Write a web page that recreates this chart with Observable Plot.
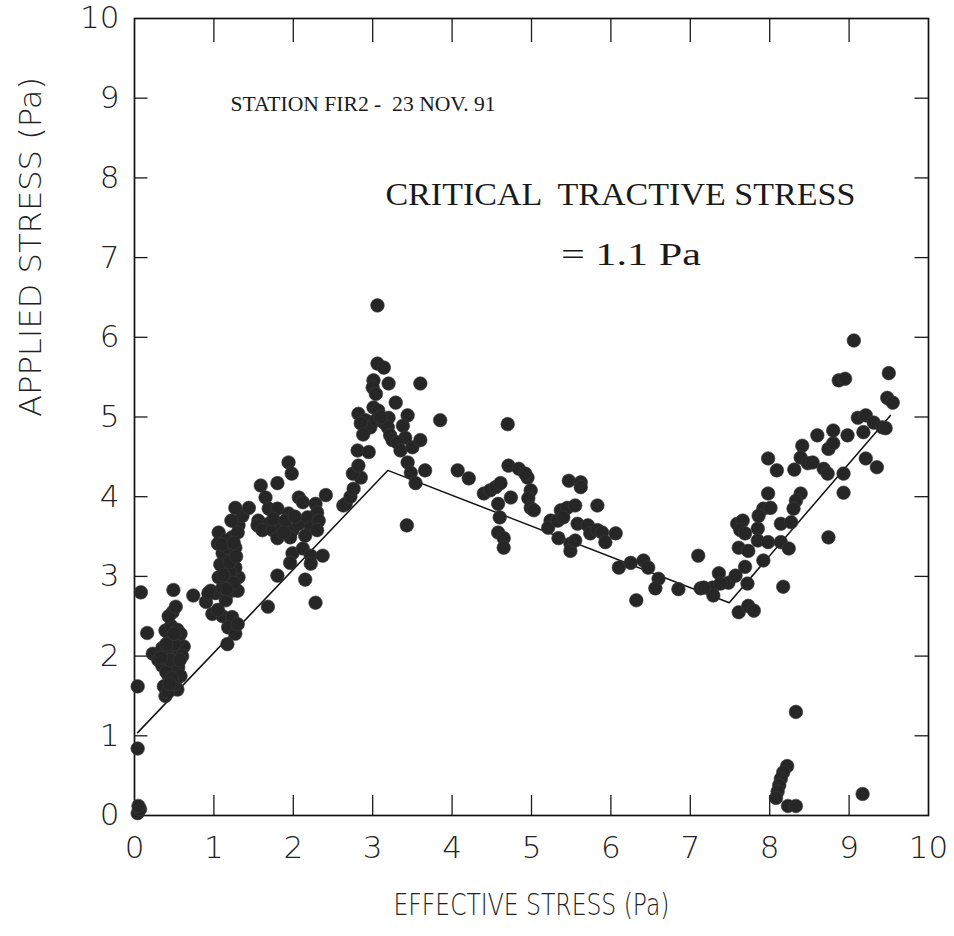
<!DOCTYPE html>
<html>
<head>
<meta charset="utf-8">
<script src="https://cdn.jsdelivr.net/npm/d3@7"></script>
<script src="https://cdn.jsdelivr.net/npm/@observablehq/plot@0.6"></script>
<style>
  html, body { margin: 0; padding: 0; background: #fff; }
</style>
</head>
<body>
<div id="chart"></div>
<script>
// Axis ticks (Pa)
const xTicks = [0, 1, 2, 3, 4, 5, 6, 7, 8, 9, 10];
const yTicks = [0, 1, 2, 3, 4, 5, 6, 7, 8, 9, 10];

// Observations: [effective stress, applied stress] in Pa
const nearOrigin = [
  [0.04, 0.03], [0.07, 0.08], [0.05, 0.12], [0.04, 0.84], [0.04, 1.62], [0.08, 2.80], [0.16, 2.29]
];
const lowCluster = [
  [0.23, 2.03], [0.30, 1.95], [0.35, 1.88], [0.39, 1.99], [0.43, 2.05], [0.52, 1.98], [0.55, 2.10], [0.62, 2.12],
  [0.39, 2.32], [0.46, 2.38], [0.54, 2.33], [0.45, 2.23], [0.55, 2.20], [0.48, 1.86], [0.55, 1.86], [0.43, 1.75],
  [0.52, 1.70], [0.37, 1.62], [0.49, 1.60], [0.39, 1.50], [0.54, 1.58], [0.42, 1.55], [0.50, 1.65], [0.58, 1.75],
  [0.35, 2.10], [0.60, 2.00], [0.48, 2.55], [0.43, 2.50], [0.52, 2.62], [0.49, 2.83], [0.40, 1.80], [0.58, 2.28],
  [0.45, 1.95], [0.50, 2.15], [0.40, 2.15], [0.47, 1.72], [0.33, 1.98], [0.57, 1.95], [0.44, 1.65], [0.50, 2.28]
];
const columnCluster = [
  [0.74, 2.76], [0.90, 2.68], [0.96, 2.82], [0.98, 2.53], [1.11, 2.50], [1.23, 2.49], [1.18, 2.36], [1.27, 2.28],
  [1.17, 2.15], [1.05, 2.58], [1.30, 2.40], [1.02, 2.79], [1.11, 2.86], [1.15, 2.70], [0.93, 2.79], [1.23, 2.82],
  [1.30, 2.82], [1.06, 2.99], [1.18, 2.95], [1.31, 2.99], [1.27, 3.11], [1.15, 3.16], [1.23, 3.24], [1.11, 3.29],
  [1.18, 3.36], [1.27, 3.36], [1.23, 3.49], [1.06, 3.55], [1.05, 3.41], [1.31, 3.64], [1.36, 3.76], [1.27, 3.86],
  [1.44, 3.86], [1.20, 3.05], [1.08, 3.15], [1.25, 2.92], [1.15, 3.45], [1.30, 3.55], [1.22, 3.70],
  [1.12, 3.02], [1.20, 3.18], [1.28, 3.25], [1.16, 2.84], [1.10, 3.40], [1.25, 3.42]
];
const upperCluster = [
  [1.68, 2.62], [1.80, 3.01], [2.15, 2.96], [2.28, 2.67], [1.94, 4.43], [1.98, 4.29], [1.80, 4.17], [1.59, 4.14],
  [2.41, 4.02], [2.07, 3.99], [2.12, 3.93], [2.63, 3.89], [2.28, 3.91], [2.30, 3.80], [1.65, 3.99], [1.69, 3.85],
  [1.80, 3.85], [1.94, 3.79], [1.56, 3.70], [1.69, 3.66], [1.81, 3.61], [1.55, 3.64], [1.61, 3.58], [1.74, 3.58],
  [1.86, 3.64], [1.99, 3.58], [2.07, 3.66], [2.18, 3.74], [2.22, 3.61], [2.32, 3.70], [2.30, 3.58], [2.15, 3.51],
  [1.96, 3.49], [1.80, 3.48], [1.99, 3.29], [2.12, 3.35], [2.22, 3.26], [2.37, 3.26], [2.22, 3.16], [1.96, 3.17],
  [1.75, 3.72], [1.90, 3.70], [2.02, 3.75], [1.88, 3.55]
];
const peakCluster = [
  [2.66, 3.91], [2.72, 4.00], [2.76, 4.10], [2.85, 4.24], [2.75, 4.29], [2.82, 4.39], [2.81, 4.58], [2.95, 4.56],
  [3.06, 6.40], [3.06, 5.67], [3.14, 5.62], [3.01, 5.46], [3.00, 5.37], [3.04, 5.29], [3.20, 5.42], [3.60, 5.42],
  [3.29, 5.18], [3.01, 5.12], [3.07, 5.08], [2.82, 5.04], [2.91, 4.96], [2.97, 4.87], [2.85, 4.92], [3.04, 4.96],
  [3.14, 4.93], [3.20, 4.99], [3.19, 4.87], [3.22, 4.77], [3.25, 4.71], [3.44, 5.02], [3.38, 4.89], [3.41, 4.74],
  [3.31, 4.68], [3.35, 4.58], [3.50, 4.62], [3.60, 4.71], [3.85, 4.96], [3.44, 4.43], [3.48, 4.30], [3.66, 4.33],
  [3.54, 4.17], [3.43, 3.64], [2.88, 4.78], [3.10, 5.00]
];
const fallingLimb = [
  [4.07, 4.33], [4.21, 4.23], [4.70, 4.91], [4.71, 4.39], [4.84, 4.35], [4.95, 4.24], [4.40, 4.04], [4.48, 4.08],
  [4.55, 4.12], [4.61, 4.17], [4.58, 3.91], [4.74, 3.99], [4.60, 3.74], [4.58, 3.55], [4.65, 3.48], [4.65, 3.36],
  [4.99, 4.08], [4.96, 3.98], [4.99, 3.86], [5.03, 3.83], [4.92, 4.29],
  [5.47, 4.20], [5.62, 4.18], [5.62, 4.12], [5.83, 3.89], [5.24, 3.70], [5.37, 3.83], [5.45, 3.86], [5.55, 3.89],
  [5.21, 3.61], [5.33, 3.70], [5.40, 3.74], [5.34, 3.48], [5.49, 3.41], [5.49, 3.32], [5.55, 3.45], [5.58, 3.66],
  [5.71, 3.64], [5.74, 3.54], [5.83, 3.58], [5.89, 3.55], [5.93, 3.43], [6.06, 3.54], [6.10, 3.11], [6.25, 3.17],
  [6.41, 3.20], [6.47, 3.11], [6.60, 2.97], [6.56, 2.85], [6.85, 2.84], [6.32, 2.70], [7.10, 3.26]
];
const valleyCluster = [
  [7.13, 2.85], [7.28, 2.86], [7.36, 3.04], [7.48, 2.92], [7.57, 3.01], [7.29, 2.76], [7.38, 2.91], [7.17, 2.86]
];
const risingLimb = [
  [7.61, 2.55], [7.73, 2.63], [7.80, 2.57], [7.69, 3.12], [7.72, 2.91], [7.92, 3.20], [8.17, 2.87], [7.59, 3.66],
  [7.66, 3.70], [7.63, 3.58], [7.69, 3.54], [7.61, 3.36], [7.73, 3.32], [7.85, 3.60], [7.85, 3.45], [7.98, 3.43],
  [8.14, 3.43], [8.24, 3.35], [8.74, 3.49], [8.14, 3.66], [8.27, 3.68], [7.92, 3.85], [7.86, 3.76], [8.01, 3.86],
  [8.39, 4.04], [8.33, 3.95], [8.30, 3.85], [7.98, 4.04], [7.98, 4.48], [8.09, 4.33], [8.31, 4.34], [8.68, 4.35],
  [8.73, 4.29], [8.93, 4.29], [8.93, 4.05], [8.41, 4.64], [8.39, 4.49], [8.48, 4.42], [8.54, 4.43], [8.74, 4.60],
  [8.80, 4.67], [9.21, 4.48], [9.35, 4.37], [9.11, 4.99], [9.21, 5.02], [9.31, 4.93], [9.42, 4.87], [9.46, 4.86],
  [9.18, 4.81], [8.98, 4.77], [8.80, 4.83], [8.60, 4.77], [9.06, 5.96], [8.87, 5.46], [8.95, 5.48], [9.50, 5.55],
  [9.48, 5.24], [9.55, 5.18]
];
const lowOutliers = [
  [8.33, 1.30], [8.22, 0.62], [8.17, 0.54], [8.14, 0.46], [8.12, 0.38], [8.10, 0.30], [8.08, 0.22],
  [8.23, 0.12], [8.33, 0.12], [9.17, 0.27]
];

// Fitted piecewise line
const fitEffective = [0.04, 3.19, 7.49, 9.52];
const fitApplied = [1.04, 4.33, 2.67, 5.02];

const observations = [
  ...nearOrigin, ...lowCluster, ...columnCluster, ...upperCluster, ...peakCluster,
  ...fallingLimb, ...valleyCluster, ...risingLimb, ...lowOutliers
];
const fit = fitEffective.map((x, i) => ({x, y: fitApplied[i]}));

const sans = "'DejaVu Sans', sans-serif";
const serif = "'Liberation Serif', 'DejaVu Serif', serif";
const inner = xTicks.slice(1, -1);
const innerY = yTicks.slice(1, -1);

const chart = Plot.plot({
  width: 954,
  height: 936,
  marginLeft: 134,
  marginRight: 26,
  marginTop: 18,
  marginBottom: 121,
  x: {domain: [0, 10]},
  y: {domain: [0, 10]},
  style: {fontFamily: sans, fontSize: "31px", fontWeight: 200, color: "#222", background: "#fff"},
  marks: [
    // inward ticks on all four sides
    Plot.ruleX(inner, {x: d => d, y1: 0, y2: 0.25, stroke: "#1a1a1a", strokeWidth: 1.3}),
    Plot.ruleX(inner, {x: d => d, y1: 10, y2: 9.7, stroke: "#1a1a1a", strokeWidth: 1.3}),
    Plot.ruleY(innerY, {y: d => d, x1: 0, x2: 0.17, stroke: "#1a1a1a", strokeWidth: 1.3}),
    Plot.ruleY(innerY, {y: d => d, x1: 10, x2: 9.83, stroke: "#1a1a1a", strokeWidth: 1.3}),
    Plot.axisX(xTicks, {tickSize: 0, tickPadding: 20, label: null, tickFormat: d3.format("d"), fontWeight: 200}),
    Plot.axisY(yTicks, {tickSize: 0, tickPadding: 15, label: null, tickFormat: d3.format("d"), fontWeight: 200}),
    Plot.frame({stroke: "#111", strokeWidth: 1.7}),
    Plot.line(fit, {x: "x", y: "y", stroke: "#111", strokeWidth: 1.5}),
    Plot.dot(observations, {x: d => d[0], y: d => d[1], r: 6.8, fill: "#262626", stroke: "#3a3a3a", strokeWidth: 0.6}),
    Plot.text(["STATION FIR2 -  23 NOV. 91"], {text: d => d, x: 1.21, y: 8.92, textAnchor: "start", fontFamily: serif, fontWeight: 400, fontSize: 21, fill: "#1a1a1a"}),
    Plot.text(["CRITICAL  TRACTIVE STRESS"], {text: d => d, x: 3.16, y: 7.78, textAnchor: "start", fontFamily: serif, fontWeight: 400, fontSize: 31, fill: "#1a1a1a"}),
    Plot.text(["= 1.1 Pa"], {text: d => d, x: 5.37, y: 7.03, textAnchor: "start", fontFamily: serif, fontWeight: 400, fontSize: 31, fill: "#1a1a1a"}),
    Plot.text(["EFFECTIVE STRESS (Pa)"], {text: d => d, frameAnchor: "bottom", lineAnchor: "middle", dy: 90, fontSize: 31, fill: "#222"}),
    Plot.text(["APPLIED STRESS (Pa)"], {text: d => d, frameAnchor: "left", lineAnchor: "middle", dx: -103, rotate: -90, fontSize: 31, fill: "#222"})
  ]
});

// set the printed widths of the lettering
const textWidths = new Map([
  ["STATION FIR2 -  23 NOV. 91", 265],
  ["CRITICAL  TRACTIVE STRESS", 470],
  ["= 1.1 Pa", 140],
  ["EFFECTIVE STRESS (Pa)", 276],
  ["APPLIED STRESS (Pa)", 340]
]);
d3.select(chart).selectAll("text").each(function() {
  const w = textWidths.get(this.textContent);
  if (w) {
    this.setAttribute("textLength", w);
    this.setAttribute("lengthAdjust", "spacingAndGlyphs");
    this.style.whiteSpace = "pre";
  }
});

document.getElementById("chart").appendChild(chart);
</script>
</body>
</html>
